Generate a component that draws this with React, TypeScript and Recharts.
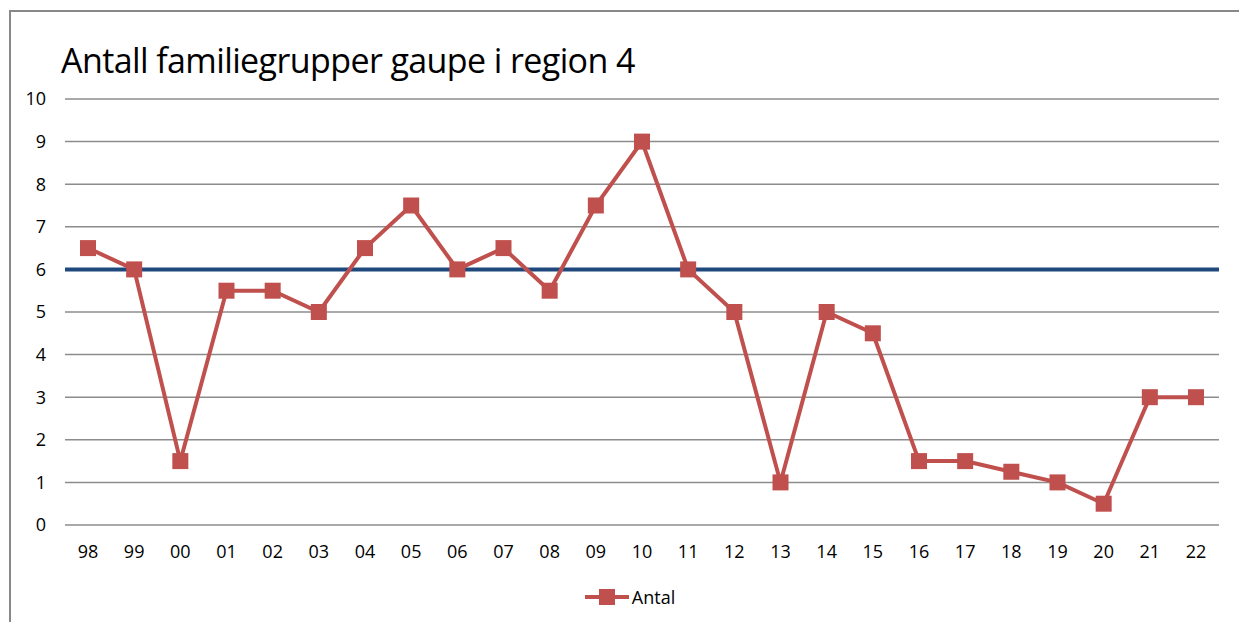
import { LineChart, Line, XAxis, YAxis, CartesianGrid, ReferenceLine, Legend } from 'recharts';

const years = ['98', '99', '00', '01', '02', '03', '04', '05', '06', '07', '08', '09', '10', '11', '12', '13', '14', '15', '16', '17', '18', '19', '20', '21', '22'];
const antal = [6.5, 6, 1.5, 5.5, 5.5, 5, 6.5, 7.5, 6, 6.5, 5.5, 7.5, 9, 6, 5, 1, 5, 4.5, 1.5, 1.5, 1.25, 1, 0.5, 3, 3];
const target = 6;
const yTicks = [0, 1, 2, 3, 4, 5, 6, 7, 8, 9, 10];

const data = years.map((year, i) => ({ year, Antal: antal[i] }));

const RED = '#C0504D';
const FONT = '"Open Sans", "Noto Sans", sans-serif';

const SquareDot = (props: any) => {
  const { cx, cy } = props;
  if (cx == null || cy == null) return null;
  return <rect x={cx - 8} y={cy - 8} width={16} height={16} fill={RED} />;
};

const LegendContent = () => (
  <div style={{ display: 'flex', alignItems: 'center', justifyContent: 'center', fontFamily: FONT, fontSize: 18, color: '#000', height: 24, paddingLeft: 40 }}>
    <svg width={46} height={20}>
      <line x1={1} y1={10} x2={45} y2={10} stroke={RED} strokeWidth={4} />
      <rect x={15} y={2} width={16} height={16} fill={RED} />
    </svg>
    <span style={{ marginLeft: 2 }}>Antal</span>
  </div>
);

export default function App() {
  return (
    <div style={{ position: 'absolute', left: 0, top: 0, width: 1239, height: 622, overflow: 'hidden', background: '#fff' }}>
      <div style={{ position: 'absolute', left: 9, top: 10, width: 1400, height: 800, border: '2px solid #888', boxSizing: 'border-box' }} />
      <div style={{ position: 'absolute', left: 61, top: 37, fontFamily: FONT, fontSize: 34, letterSpacing: -0.6, color: '#000', whiteSpace: 'nowrap' }}>
        Antall familiegrupper gaupe i region 4
      </div>
      <div style={{ position: 'absolute', left: 0, top: 0 }}>
        <LineChart width={1239} height={622} data={data} margin={{ top: 99, right: 20, left: 0, bottom: 13 }}>
          <CartesianGrid vertical={false} stroke="#8c8c8c" strokeWidth={1.5} />
          <XAxis
            dataKey="year"
            axisLine={false}
            tickLine={false}
            tickSize={0}
            tickMargin={20}
            height={60}
            interval={0}
            padding={{ left: 23, right: 23 }}
            tick={{ fill: '#000', fontSize: 18, fontFamily: FONT }}
          />
          <YAxis
            domain={[0, 10]}
            ticks={yTicks}
            axisLine={false}
            tickLine={false}
            tickSize={0}
            tickMargin={19}
            width={65}
            interval={0}
            tick={{ fill: '#000', fontSize: 18, fontFamily: FONT }}
          />
          <ReferenceLine y={target} stroke="#1F497D" strokeWidth={4} ifOverflow="extendDomain" />
          <Line
            type="linear"
            dataKey="Antal"
            stroke={RED}
            strokeWidth={4}
            dot={<SquareDot />}
            activeDot={false}
            isAnimationActive={false}
          />
          <Legend verticalAlign="bottom" height={24} content={<LegendContent />} />
        </LineChart>
      </div>
    </div>
  );
}
